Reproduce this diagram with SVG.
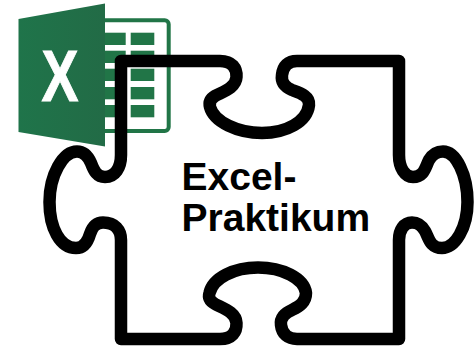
<svg xmlns="http://www.w3.org/2000/svg" width="475" height="347" viewBox="0 0 475 347">
<style>
.cell{fill:#217547}
.outline{fill:none;stroke:#000;stroke-width:12.5;stroke-linejoin:round}
.label{font-family:"Liberation Sans",Arial,sans-serif;font-weight:700;font-size:39px;fill:#000}
</style>
<defs>
<linearGradient id="door" x1="0" x2="1" y1="0" y2="0">
<stop offset="0" stop-color="#1f744a"/>
<stop offset="1" stop-color="#226b46"/>
</linearGradient>
</defs>
<rect width="475" height="347" fill="#fff"/>
<g id="excel-icon">
<rect x="96" y="20.3" width="72.7" height="110.7" rx="4" fill="#fff" stroke="#217547" stroke-width="4"/>
<g class="cell">
<rect x="105" y="32.7" width="20.7" height="12.3"/><rect x="130.7" y="32.7" width="23.6" height="12.3"/>
<rect x="105" y="50.7" width="20.7" height="12.3"/><rect x="130.7" y="50.7" width="23.6" height="12.3"/>
<rect x="105" y="68.7" width="20.7" height="12.3"/><rect x="130.7" y="68.7" width="23.6" height="12.3"/>
<rect x="105" y="87" width="20.7" height="12.3"/><rect x="130.7" y="87" width="23.6" height="12.3"/>
<rect x="105" y="105" width="20.7" height="12.3"/><rect x="130.7" y="105" width="23.6" height="12.3"/>
</g>
<polygon points="18.5,19 105,3.5 105,146.5 18.5,132" fill="url(#door)"/>
<text transform="translate(60 100.5) scale(.76 1)" text-anchor="middle" font-family="Liberation Sans, Arial, sans-serif" font-weight="700" font-size="73" fill="#fff" stroke="#fff" stroke-width="1">X</text>
</g>
<g id="puzzle-piece">
<path class="outline" d="M121 61 L220 61 C232 61 237 68 236.5 77 C236 88 222 92 215 96 C210 99 209 103 210 107 C214 122 238 133 262 133 C286 133 307 122 309 105 C310 96 300 93 292 90 C285 87 281 82 282 75 C283 66 288 61 297 61 L399 61 L399 155 C399 168 405 177 413 177 C424 177 425 168 429 160 C432 155 437 151.5 443 151.5 C456 151.5 467.5 175 467.5 202 C467.5 228 455 248 442 248 C430 248 429 238 425 231 C422 226 419 222.5 412 222.5 C404 222.5 399 230 399 240 L399 339 L297 339 C288 339 282 334 281 325 C280 318 285 313 292 310 C300 306 306 302 306 293 C304 278 282 267.5 258 267.5 C234 267.5 213 278 209.5 293 C208 298 210 301 215 304 C222 308 236 312 236.5 323 C237 332 232 339 220 339 L121 339 L121 240 C121 230 115 222.5 103 222.5 C95 222.5 92 228 90 234 C88 241 84 248 76 248 C60 248 49.5 228 49.5 202 C49.5 175 63 151.5 77 151.5 C84 151.5 88 156 91 163 C94 171 97 177 105 177 C115 177 121 168 121 155 Z"/>
<text class="label" x="181.5" y="189.5">Excel-</text>
<text class="label" x="181.5" y="231">Praktikum</text>
</g>
</svg>
